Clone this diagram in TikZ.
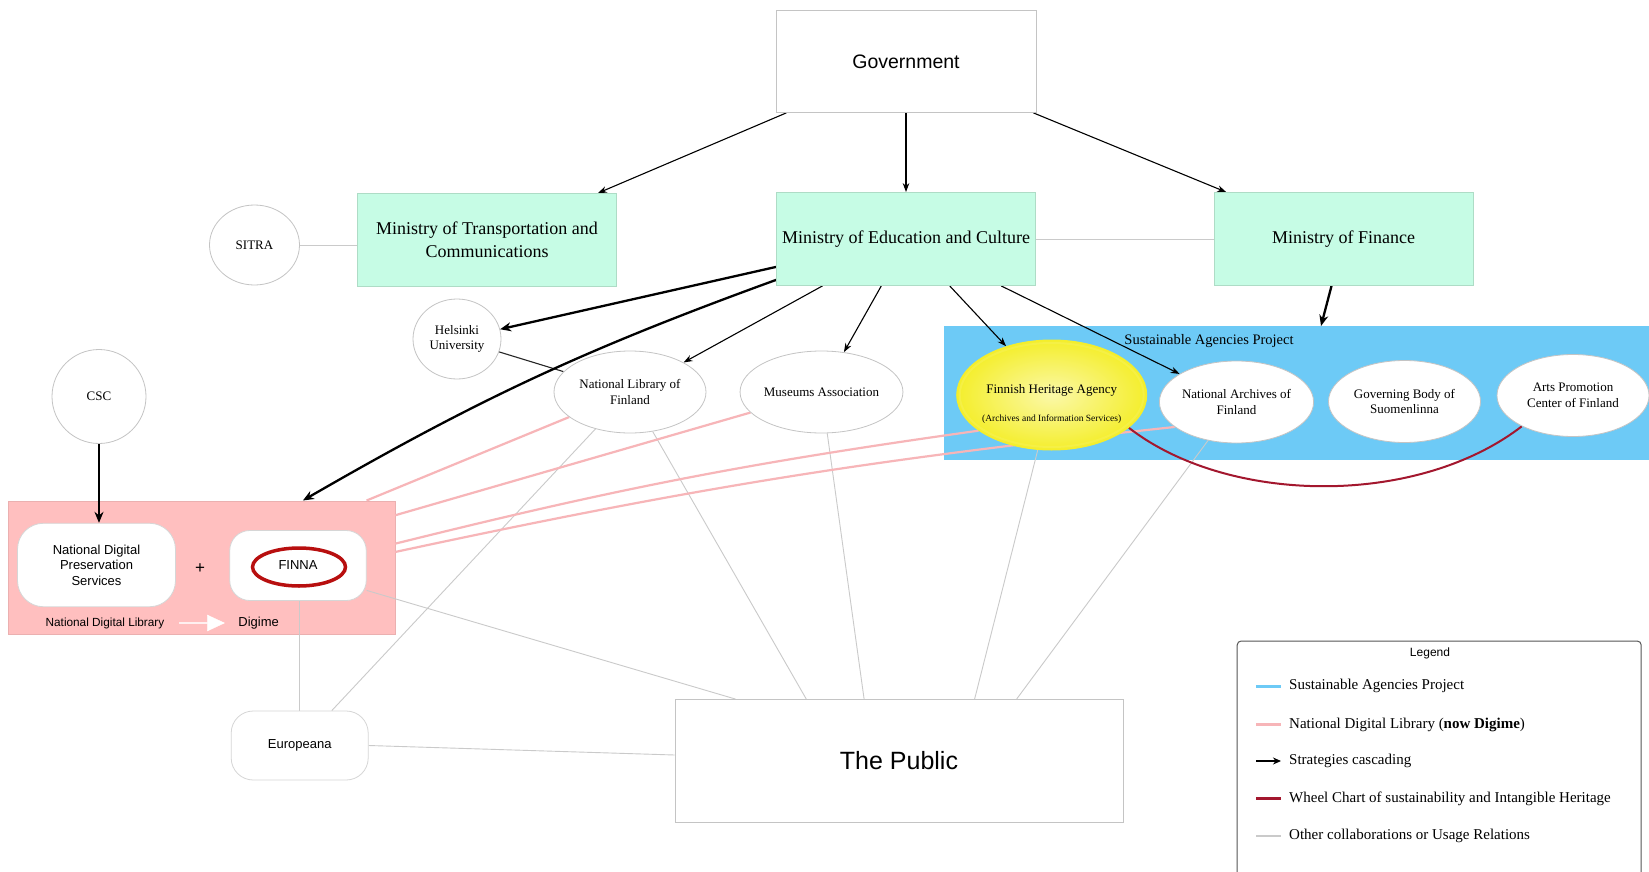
\documentclass[tikz,border=0pt]{standalone}
\usepackage{fontspec}
\setmainfont{Liberation Serif}
\setsansfont{Liberation Sans}
\usetikzlibrary{arrows.meta,shapes.geometric,shapes.arrows,calc}

\definecolor{mint}{HTML}{C6FCE5}
\definecolor{mintedge}{HTML}{AEDCC6}
\definecolor{saBlue}{HTML}{6DCAF6}
\definecolor{ndlFill}{HTML}{FFBFBF}
\definecolor{ndlEdge}{HTML}{EBB0B0}
\definecolor{ndlLine}{HTML}{F7B5B8}
\definecolor{wheelRed}{HTML}{A3172E}
\definecolor{finnaRed}{HTML}{B80F0F}
\definecolor{relGray}{HTML}{CACACA}
\definecolor{edgeGray}{HTML}{C4C4C4}
\definecolor{fhaIn}{HTML}{FBF8A8}
\definecolor{fhaOut}{HTML}{F4EE2C}
\definecolor{fhaRim}{HTML}{F6F14E}
\definecolor{legendEdge}{HTML}{555555}

\newcommand\setfs[2]{\fontsize{#1}{#2}\selectfont}

\pgfdeclarelayer{zones}
\pgfdeclarelayer{links}
\pgfsetlayers{zones,links,main}

\begin{document}
\begin{tikzpicture}[x=1pt,y=-1pt,
  ministry/.style={rectangle, draw=mintedge, fill=mint, line width=0.8pt,
    minimum width=259pt, minimum height=93pt, inner sep=0pt, align=center,
    font=\setfs{18}{23}},
  plainbox/.style={rectangle, draw=edgeGray, fill=white, line width=0.8pt,
    inner sep=0pt, align=center},
  oval/.style={ellipse, draw=edgeGray, fill=white, line width=0.8pt,
    inner sep=0pt, align=center, font=\setfs{13}{15.5}},
  capsule/.style={rectangle, draw=edgeGray!70, fill=white, line width=0.8pt,
    inner sep=0pt, align=center, font=\sffamily\setfs{13}{15.5}},
  cascade/.style={draw=black, line width=1.1pt, -{Stealth[length=9pt,width=6.5pt]}},
  cascadebold/.style={draw=black, line width=2.3pt, -{Stealth[length=11pt,width=9pt]}},
  ndl/.style={draw=ndlLine, line width=2.2pt},
  other/.style={draw=relGray, line width=0.9pt},
  darkrel/.style={draw=black!85, line width=1.1pt},
  wheel/.style={draw=wheelRed, line width=2pt},
  legtext/.style={anchor=west, font=\setfs{15}{18}, inner sep=0pt,
    text height=10.5pt, text depth=3.5pt},
]
\useasboundingbox (0,0) rectangle (1649,872);

% ---------- coloured zones ----------
\begin{pgfonlayer}{zones}
\fill[white] (0,0) rectangle (1649,872);
\node[rectangle, fill=saBlue, minimum width=705.6pt, minimum height=133.6pt,
  inner sep=0pt, anchor=north west] (saproj) at (943.4,326) {};
\node[rectangle, fill=ndlFill, draw=ndlEdge, line width=0.6pt, minimum width=387pt,
  minimum height=133.5pt, inner sep=0pt, anchor=north west] (ndlzone) at (7.5,500.5) {};
\end{pgfonlayer}

% ---------- government and ministries ----------
\node[plainbox, minimum width=260pt, minimum height=102pt,
  font=\sffamily\setfs{19.5}{23}] (gov) at (906,61.5) {Government};
\node[ministry] (mtc) at (487,240) {Ministry of Transportation and\\Communications};
\node[ministry] (mec) at (906,239) {Ministry of Education and Culture};
\node[ministry] (mfin) at (1343.5,239) {Ministry of Finance};

% ---------- institutions ----------
\node[oval, minimum width=90pt, minimum height=80pt] (sitra) at (254.5,245) {SITRA};
\node[oval, minimum width=88pt, minimum height=80pt] (helsinki) at (457,339) {Helsinki\\University};
\node[oval, minimum width=94pt, minimum height=94pt] (csc) at (99,396.5) {CSC};
\node[oval, minimum width=152pt, minimum height=82pt] (natlib) at (630,392) {National Library of\\Finland};
\node[oval, minimum width=152pt, minimum height=82pt] (museums) at (821.5,392) {Museums Association};

% ---------- Sustainable Agencies Project ----------
\node[font=\setfs{14.5}{17}] (satitle) at (1209,341) {Sustainable Agencies Project};

\node[ellipse, inner color=fhaIn, outer color=fhaOut, draw=fhaOut, line width=1pt,
  minimum width=190pt, minimum height=110pt, inner sep=0pt] (fha) at (1051.7,395) {};
\node[ellipse, draw=fhaRim, line width=2pt, opacity=0.7, minimum width=184pt,
  minimum height=104pt, inner sep=0pt] (fharim) at (1051.7,395) {};
\node[font=\setfs{13}{15}] (fhaname) at (1051.7,390) {Finnish Heritage Agency};
\node[font=\setfs{9.5}{11}] (fhasub) at (1051.7,419.5) {(Archives and Information Services)};

\node[oval, minimum width=152pt, minimum height=82pt] (natarch) at (1236.5,402) {National Archives of\\Finland};
\node[oval, minimum width=152pt, minimum height=82pt] (govbody) at (1404.5,401.5) {Governing Body of\\Suomenlinna};
\node[oval, minimum width=152pt, minimum height=82pt] (arts) at (1573,395.5) {Arts Promotion\\Center of Finland};

% ---------- National Digital Library ----------
\node[capsule, rounded corners=26pt, minimum width=158pt, minimum height=83.5pt]
  (ndps) at (96.5,565) {National Digital\\Preservation\\Services};
\node[capsule, rounded corners=20pt, minimum width=136.5pt, minimum height=70pt]
  (finna) at (298,565.5) {FINNA};
\node[ellipse, draw=finnaRed, line width=3.5pt, minimum width=93pt,
  minimum height=38pt, inner sep=0pt] (finnamark) at (299,567) {};
\node[font=\sffamily\setfs{17}{19}] (plus) at (200,569) {+};
\node[font=\sffamily\setfs{11.8}{14}] (ndlname) at (105,623) {National Digital Library};
\node[single arrow, fill=white, draw=white, minimum height=45pt, minimum width=16pt,
  single arrow head extend=4pt, single arrow tip angle=50, inner sep=0pt] (rename) at (201.5,623) {};
\node[font=\sffamily\setfs{13}{15}] (digime) at (258.7,623) {Digime};

\node[capsule, rounded corners=22pt, minimum width=137pt, minimum height=69pt]
  (europeana) at (299.7,745.5) {Europeana};
\node[plainbox, minimum width=448pt, minimum height=123pt,
  font=\sffamily\setfs{25}{29}] (public) at (899,761) {The Public};

\begin{pgfonlayer}{links}
% ---------- other collaborations and usage ----------
\draw[other] (sitra) -- (sitra -| mtc.west);
\draw[other] (mec) -- (mfin);
\draw[darkrel] (helsinki) -- (natlib);
\draw[other] (natlib) -- ($(public.north west)+(131.7,0)$);
\draw[other] (natlib) -- ($(europeana.north west)+(101,0)$);
\draw[other] (museums) -- ($(public.north west)+(189.5,0)$);
\draw[other] (fha) -- ($(public.north west)+(300,0)$);
\draw[other] (natarch) -- ($(public.north west)+(342,0)$);
\draw[other] (finna.south -| europeana.north) -- (europeana.north);
\draw[other] ($(finna.south east)+(0,-10.5)$) -- ($(public.north west)+(61,0)$);
\draw[other] (europeana.east) -- ($(public.west)+(0,-6)$);

% ---------- National Digital Library links ----------
\draw[ndl] (natlib) -- ($(ndlzone.north east)+(-28.5,0)$);
\draw[ndl] (museums) -- ($(ndlzone.north east)+(0,14.8)$);
\draw[ndl] (fha.206) to[bend right=3] ($(ndlzone.north east)+(0,43.2)$);
\draw[ndl] (natarch.202) to[bend right=3] ($(ndlzone.north east)+(0,51.5)$);

% ---------- wheel chart link ----------
\draw[wheel] (fha.-23) .. controls +(99,77) and +(-105,81) .. (arts.211);

% ---------- strategies cascading ----------
\draw[cascade] ($(gov.south west)+(10.7,0)$) -- ($(mtc.north east)+(-19,0)$);
\draw[cascade] (gov.south) -- (mec.north);
\draw[cascade] ($(gov.south east)+(-3,0)$) -- ($(mfin.north west)+(12.6,0)$);
\draw[cascadebold] ($(mfin.south)+(-12,0)$) -- ($(saproj.north west)+(377.6,0)$);
\draw[cascadebold] ($(mec.south west)+(0,-19)$) -- (helsinki);
\draw[cascadebold] ($(mec.south west)+(0,-6)$) to[bend right=5] ($(ndlzone.north west)+(295.4,0)$);
\draw[cascade] ($(mec.south west)+(46.4,0)$) -- (natlib);
\draw[cascade] ($(mec.south)+(-24.7,0)$) -- (museums);
\draw[cascade] ($(mec.south)+(43.7,0)$) -- (fha);
\draw[cascade] ($(mec.south)+(95.2,0)$) -- (natarch);
\draw[cascadebold] (csc.south) -- (csc.south |- ndps.north);
\end{pgfonlayer}

% ---------- legend ----------
\node[draw=legendEdge, rounded corners=4pt, line width=1pt, fill=white,
  minimum width=404pt, minimum height=260pt, inner sep=0pt, anchor=north west]
  (legend) at (1236.7,640.5) {};
\node[font=\sffamily\setfs{12}{14}] (legtitle) at (1430,653) {Legend};

\coordinate (la1) at (1256,686);   \coordinate (lb1) at (1281,686);
\coordinate (la2) at (1256,724.5); \coordinate (lb2) at (1281,724.5);
\coordinate (la3) at (1256,761);   \coordinate (lb3) at (1281,761);
\coordinate (la4) at (1256,798.5); \coordinate (lb4) at (1281,798.5);
\coordinate (la5) at (1256,836);   \coordinate (lb5) at (1281,836);
\draw[draw=saBlue, line width=3pt] (la1) -- (lb1);
\draw[draw=ndlLine, line width=3pt] (la2) -- (lb2);
\draw[draw=black, line width=2pt, -{Stealth[length=8pt,width=7pt]}] (la3) -- (lb3);
\draw[draw=wheelRed, line width=3pt] (la4) -- (lb4);
\draw[draw=relGray, line width=1.3pt] (la5) -- (lb5);
\node[legtext] (lt1) at (1289,686) {Sustainable Agencies Project};
\node[legtext] (lt2) at (1289,724.5) {National Digital Library (\textbf{now Digime})};
\node[legtext] (lt3) at (1289,761) {Strategies cascading};
\node[legtext] (lt4) at (1289,798.5) {Wheel Chart of sustainability and Intangible Heritage};
\node[legtext] (lt5) at (1289,836) {Other collaborations or Usage Relations};
\end{tikzpicture}
\end{document}
